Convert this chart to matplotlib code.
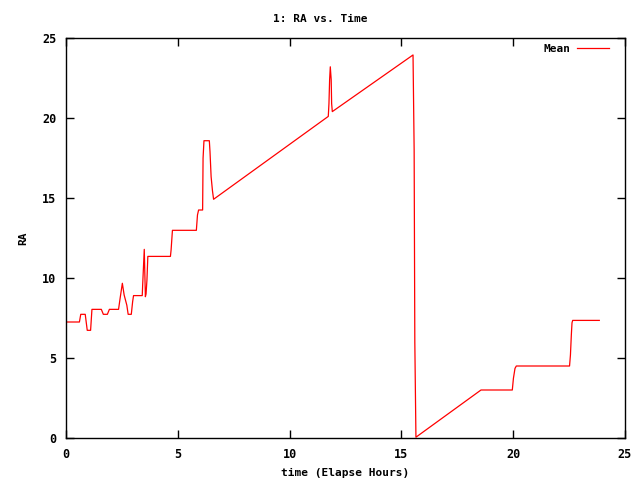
import matplotlib
matplotlib.use("Agg")
import matplotlib.pyplot as plt

hours = [0.0, 0.6, 0.66, 0.86, 0.95, 1.1, 1.16, 1.58, 1.67, 1.85, 1.94, 2.35,
         2.42, 2.52, 2.6, 2.72, 2.78, 2.92, 2.98, 3.02, 3.41, 3.43, 3.5, 3.55,
         3.58, 3.62, 3.66, 3.79, 4.67, 4.7, 4.76, 5.83, 5.88, 5.93, 6.11, 6.13,
         6.17, 6.41, 6.44, 6.49, 6.55, 6.6, 11.73, 11.76, 11.79, 11.82, 11.86,
         11.88, 11.91, 15.52, 15.57, 15.6, 15.65, 18.56, 19.96, 20.01, 20.08,
         20.14, 22.52, 22.56, 22.6, 22.63, 22.66, 23.85]
ra = [7.25, 7.25, 7.73, 7.73, 6.73, 6.73, 8.04, 8.04, 7.73, 7.73, 8.04, 8.04,
      8.73, 9.67, 8.94, 8.3, 7.73, 7.73, 8.52, 8.9, 8.9, 9.6, 11.79, 8.83,
      9.0, 9.87, 11.35, 11.35, 11.35, 11.75, 12.98, 12.98, 13.94, 14.25, 14.25,
      17.48, 18.58, 18.58, 17.9, 16.33, 15.46, 14.92, 20.1, 20.9, 22.4, 23.2,
      22.4, 20.9, 20.4, 23.94, 18.0, 6.0, 0.05, 3.0, 3.0, 3.73, 4.35,
      4.5, 4.5, 5.19, 6.44, 7.2, 7.35, 7.35]

title = "1: RA vs. Time"
xlabel = "time (Elapse Hours)"
ylabel = "RA"
series_name = "Mean"
xticks = [0, 5, 10, 15, 20, 25]
yticks = [0, 5, 10, 15, 20, 25]

font = {"family": "DejaVu Sans Mono", "weight": "bold", "size": 8}

fig = plt.figure(figsize=(6.4, 4.8), dpi=100)
ax = fig.add_axes([66 / 640, 42 / 480, (625 - 66) / 640, (438 - 38) / 480])
ax.plot(hours, ra, color="#ff0000", linewidth=0.9, label=series_name)
ax.set_xlim(0, 25)
ax.set_ylim(0, 25)
ax.set_xticks(xticks)
ax.set_yticks(yticks)
ax.tick_params(direction="in", length=6, width=1, top=True, right=True,
               labelsize=8.5, pad=7)
for lab in ax.get_xticklabels() + ax.get_yticklabels():
    lab.set_fontfamily("DejaVu Sans Mono")
    lab.set_fontweight("bold")
for s in ax.spines.values():
    s.set_linewidth(1)
ax.set_xlabel(xlabel, fontdict=font, labelpad=5)
ax.set_ylabel(ylabel, fontdict=font, labelpad=10)
fig.text(0.5, 1 - 19 / 480, title, ha="center", va="center", fontdict=font)
leg = ax.legend(loc="upper right", frameon=False, markerfirst=False,
                handlelength=2.9, handletextpad=0.6,
                prop={"family": "DejaVu Sans Mono", "weight": "bold", "size": 8},
                borderaxespad=0, borderpad=0,
                bbox_to_anchor=((609 - 66) / 559, (438 - 44) / 400))
fig.savefig("out.png", dpi=100)
